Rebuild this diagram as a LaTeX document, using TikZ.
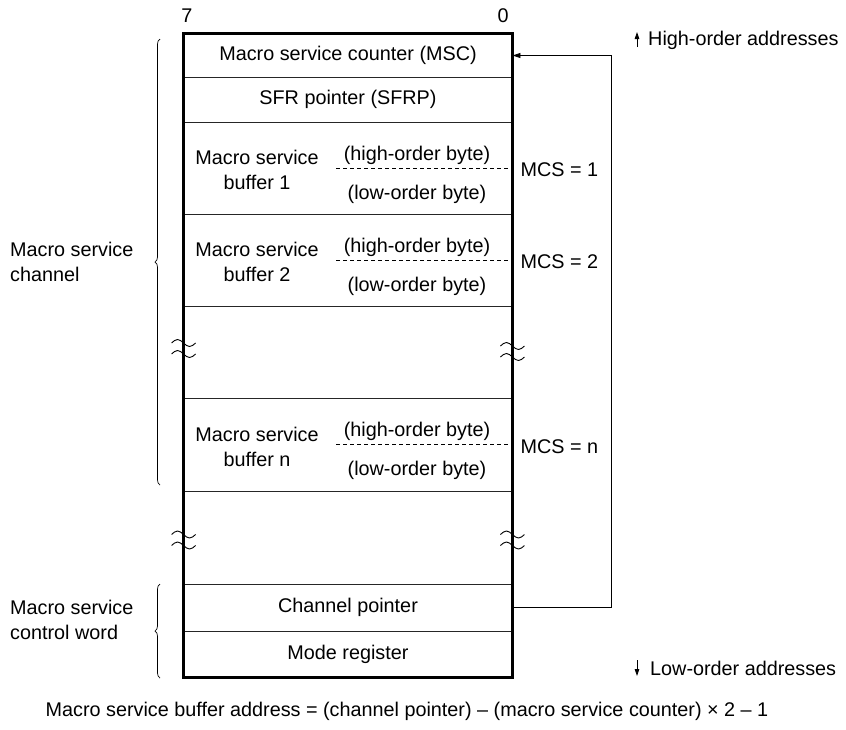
\documentclass[tikz,border=0pt]{standalone}
\usepackage{fontspec}
\setmainfont{Liberation Sans}
\usetikzlibrary{arrows.meta,decorations.pathreplacing,calc}
\begin{document}
\begin{tikzpicture}[x=1pt,y=-1pt,
  every node/.style={font=\fontsize{19.8}{25}\selectfont, inner sep=0pt},
  cell/.style={draw=black!85, line width=0.9pt, minimum width=328pt},
  txt/.style={align=center},
  lbl/.style={anchor=west, align=left},
  border/.style={draw=black, line width=2.2pt},
  sep/.style={dashed, dash pattern=on 4pt off 3pt, line width=0.8pt},
  conn/.style={line width=0.9pt, -{Triangle[length=8pt,width=5pt]}},
  addr/.style={line width=0.8pt, -{Triangle[length=7pt,width=4.5pt]}},
  bracestyle/.style={decorate, decoration={brace, amplitude=5pt}, line width=0.7pt},
  brk/.pic={
    \draw[line width=0.9pt] (-12,-5) sin (-6,-8.5) cos (0,-5) sin (6,-1.5) cos (12,-5);
    \draw[line width=0.9pt] (-12,6) sin (-6,2.5) cos (0,6) sin (6,9.5) cos (12,6);
  }]
\useasboundingbox (0,0) rectangle (846,729);

% cells
\node[cell, minimum height=43pt] (msc) at (348,55.5) {Macro service counter (MSC)};
\node[cell, minimum height=45pt] (sfrp) at (348,99.5) {SFR pointer (SFRP)};
\node[cell, minimum height=92pt] (buf1) at (348,168) {};
\node[cell, minimum height=92pt] (buf2) at (348,260) {};
\node[cell, minimum height=92pt] (gap1) at (348,352) {};
\node[cell, minimum height=93pt] (bufn) at (348,444.5) {};
\node[cell, minimum height=93pt] (gap2) at (348,537.5) {};
\node[cell, minimum height=47pt] (chp) at (348,607.5) {Channel pointer};
\node[cell, minimum height=46pt] (mode) at (348,654) {Mode register};

% outer border
\draw[border] (msc.north west) rectangle (mode.south east);

% bit labels
\node (b7) at (187,16) {7};
\node (b0) at (503,16) {0};

% buffers
\foreach \b/\n in {buf1/1, buf2/2, bufn/n} {
  \node[txt] (\b name) at ($(\b.center)+(-91,2)$) {Macro service\\buffer \n};
  \node (\b hi) at ($(\b.center)+(69,-13)$) {(high-order byte)};
  \node (\b lo) at ($(\b.center)+(69,26)$) {(low-order byte)};
  \draw[sep] ($(\b.east)+(-176,0)$) -- (\b.east);
  \node[lbl] (\b mcs) at ($(\b.east)+(8,2)$) {MCS = \n};
}

% break marks
\path (gap1.west) ++(0,-4) pic {brk};
\path (gap1.east) ++(0,-1) pic {brk};
\path (gap2.west) ++(0,2) pic {brk};
\path (gap2.east) ++(0,2) pic {brk};

% loop connector
\draw[conn] (chp.east) -- ++(99,0) |- (msc.east);

% braces
\draw[bracestyle] (160,485) -- (160,39);
\draw[bracestyle] (160,678) -- (160,584);

% left labels
\node[lbl] (chlabel) at (10,262) {Macro service\\channel};
\node[lbl] (cwlabel) at (10,620) {Macro service\\control word};

% address direction
\coordinate (hiA) at (637,47);
\coordinate (hiB) at (637,32);
\draw[addr] (hiA) -- (hiB);
\node[lbl] (hilabel) at (648,40) {High-order addresses};
\coordinate (loA) at (637,660);
\coordinate (loB) at (637,676);
\draw[addr] (loA) -- (loB);
\node[lbl] (lolabel) at (650,668) {Low-order addresses};

% formula
\node (formula) at (407,711) {Macro service buffer address = (channel pointer) – (macro service counter) × 2 – 1};
\end{tikzpicture}
\end{document}
